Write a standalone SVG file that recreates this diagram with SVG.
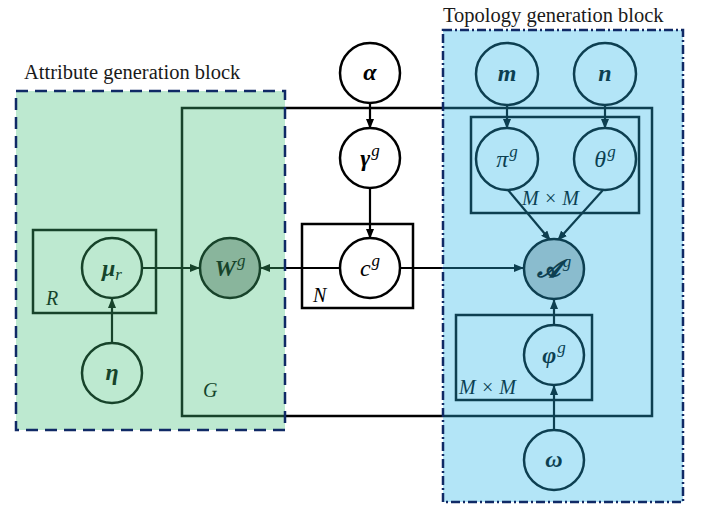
<svg xmlns="http://www.w3.org/2000/svg" width="702" height="506" viewBox="0 0 702 506">
<style>
.nd{fill:#fff;stroke:#000;stroke-width:2.5}
.pl{fill:none;stroke:#000;stroke-width:2.5}
.ln{fill:none;stroke:#000;stroke-width:2.2}
.lb{font-family:"Liberation Serif","DejaVu Serif",serif;font-size:24px;font-style:italic;font-weight:bold;text-anchor:middle;fill:#000}
.sp{font-size:17px;font-weight:normal}
.it{font-family:"Liberation Serif","DejaVu Serif",serif;font-size:24px;font-style:italic;text-anchor:middle;fill:#000}
.plab{font-family:"Liberation Serif","DejaVu Serif",serif;font-size:20px;font-style:italic;fill:#000}
.ttl{font-family:"Liberation Serif",serif;font-size:20.5px;fill:#1a1a1a}
</style>
<defs>
<marker id="ah" markerWidth="10" markerHeight="8" refX="9" refY="4" orient="auto" markerUnits="userSpaceOnUse">
<path d="M0,0 L10,4 L0,8 Z" fill="#000"/>
</marker>
</defs>
<rect width="702" height="506" fill="#fff"/>
<g id="plates">
<rect id="plate-G" class="pl" x="182" y="108" width="470" height="308"/>
<rect id="plate-R" class="pl" x="33" y="230" width="123" height="83"/>
<rect id="plate-N" class="pl" x="302" y="224" width="111" height="84"/>
<rect id="plate-MM1" class="pl" x="471" y="117" width="168" height="96"/>
<rect id="plate-MM2" class="pl" x="456" y="315" width="136" height="85"/>
<text class="plab" x="203" y="397">G</text>
<text class="plab" x="46" y="305">R</text>
<text class="plab" x="313" y="302">N</text>
<text class="plab" x="522" y="205">M × M</text>
<text class="plab" x="459" y="394">M × M</text>
</g>
<g id="connectors">
<line class="ln" x1="370" y1="103" x2="370" y2="128" marker-end="url(#ah)"/>
<line class="ln" x1="370" y1="188" x2="370" y2="238" marker-end="url(#ah)"/>
<line class="ln" x1="340" y1="268" x2="261" y2="268" marker-end="url(#ah)"/>
<line class="ln" x1="400" y1="268" x2="523" y2="268" marker-end="url(#ah)"/>
<line class="ln" x1="142" y1="268" x2="199" y2="268" marker-end="url(#ah)"/>
<line class="ln" x1="112" y1="343" x2="112" y2="299" marker-end="url(#ah)"/>
<line class="ln" x1="507" y1="105" x2="507" y2="128" marker-end="url(#ah)"/>
<line class="ln" x1="605" y1="105" x2="605" y2="128" marker-end="url(#ah)"/>
<line class="ln" x1="508" y1="190" x2="550" y2="240" marker-end="url(#ah)"/>
<line class="ln" x1="603" y1="190" x2="558" y2="240" marker-end="url(#ah)"/>
<line class="ln" x1="554" y1="325" x2="554" y2="300" marker-end="url(#ah)"/>
<line class="ln" x1="554" y1="430" x2="554" y2="386" marker-end="url(#ah)"/>
</g>
<g id="node-alpha"><circle class="nd" cx="370" cy="73" r="30"/><text class="lb" x="370" y="80">α</text></g>
<g id="node-gamma"><circle class="nd" cx="370" cy="158" r="30"/><text class="lb" x="370" y="166">γ<tspan class="sp" dx="1" dy="-10">g</tspan></text></g>
<g id="node-c"><circle class="nd" cx="370" cy="268" r="30"/><text class="it" x="370" y="276">c<tspan class="sp" dx="1" dy="-10">g</tspan></text></g>
<g id="node-W"><circle class="nd" cx="230" cy="268" r="30" style="fill:#b0b0b0"/><text class="lb" x="230" y="276">W<tspan class="sp" dx="1" dy="-10">g</tspan></text></g>
<g id="node-mu"><circle class="nd" cx="112" cy="268" r="30"/><text class="lb" x="112" y="276">μ<tspan class="sp" dy="4">r</tspan></text></g>
<g id="node-eta"><circle class="nd" cx="112" cy="373" r="30"/><text class="lb" x="112" y="380">η</text></g>
<g id="node-m"><circle class="nd" cx="507" cy="74" r="31"/><text class="lb" x="507" y="81">m</text></g>
<g id="node-n"><circle class="nd" cx="605" cy="74" r="31"/><text class="lb" x="605" y="81">n</text></g>
<g id="node-pi"><circle class="nd" cx="507" cy="159" r="31"/><text class="it" x="507" y="167">π<tspan class="sp" dx="1" dy="-10">g</tspan></text></g>
<g id="node-theta"><circle class="nd" cx="605" cy="159" r="31"/><text class="it" x="605" y="167">θ<tspan class="sp" dx="1" dy="-10">g</tspan></text></g>
<g id="node-A"><circle class="nd" cx="554" cy="269" r="30" style="fill:#c0c0c0"/><text class="lb" x="554" y="277">𝓐<tspan class="sp" dx="3" dy="-10">g</tspan></text></g>
<g id="node-phi"><circle class="nd" cx="554" cy="355" r="30"/><text class="lb" x="554" y="363">φ<tspan class="sp" dx="1" dy="-10">g</tspan></text></g>
<g id="node-omega"><circle class="nd" cx="554" cy="460" r="30"/><text class="lb" x="554" y="467">ω</text></g>
<g id="block-attribute">
<rect x="16" y="91" width="269" height="339" fill="#42c079" fill-opacity="0.35"/>
<rect x="16" y="91" width="269" height="339" fill="none" stroke="#102a66" stroke-width="2.5" stroke-dasharray="12,7"/>
<text class="ttl" x="24" y="79">Attribute generation block</text>
</g>
<g id="block-topology">
<rect x="443" y="30" width="240" height="472" fill="#26b5e8" fill-opacity="0.35"/>
<rect x="443" y="30" width="240" height="472" fill="none" stroke="#102a66" stroke-width="2.5" stroke-dasharray="9,3,2,3"/>
<text class="ttl" x="443" y="22">Topology generation block</text>
</g>
</svg>
